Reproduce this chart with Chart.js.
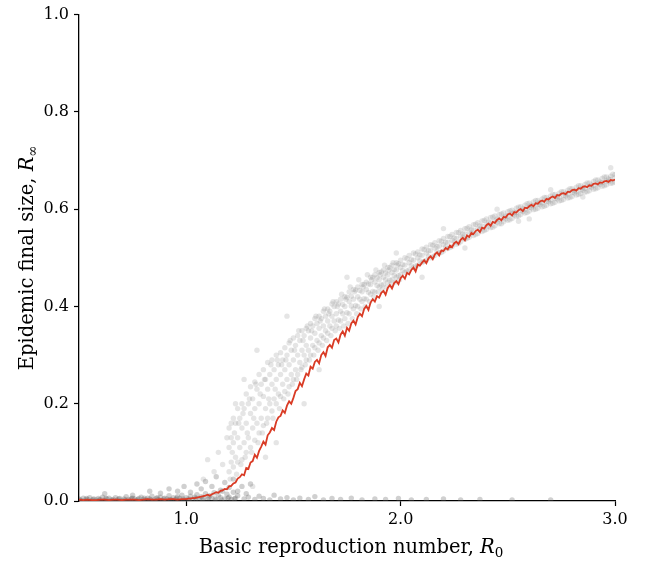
<!DOCTYPE html>
<html>
<head>
<meta charset="utf-8">
<script src="https://cdn.jsdelivr.net/npm/chart.js@4.4.1/dist/chart.umd.min.js"></script>
<style>
html,body{margin:0;padding:0;background:#fff;}
#wrap{width:649px;height:561px;}
</style>
</head>
<body>
<div id="wrap"><canvas id="c" width="649" height="561"></canvas></div>
<script>
// ---- data ----
const xTickValues = [1.0, 2.0, 3.0];
const yTickValues = [0.0, 0.2, 0.4, 0.6, 0.8, 1.0];
const xTitle = ["Basic reproduction number, ", "R", "0"];
const yTitle = ["Epidemic final size, ", "R", "\u221E"];

// mean final size (red line)
const meanR0 = [0.50,0.52,0.54,0.56,0.58,0.60,0.62,0.64,0.66,0.68,0.70,0.72,0.74,0.76,0.78,0.80,0.82,0.84,0.86,0.88,0.90,0.92,0.94,0.96,0.98,
1.00,1.01,1.02,1.03,1.04,1.05,1.06,1.07,1.08,1.09,1.10,1.11,1.12,1.13,1.14,1.15,1.16,1.17,1.18,1.19,
1.20,1.21,1.22,1.23,1.24,1.25,1.26,1.27,1.28,1.29,1.30,1.31,1.32,1.33,1.34,1.35,1.36,1.37,1.38,1.39,
1.40,1.41,1.42,1.43,1.44,1.45,1.46,1.47,1.48,1.49,1.50,1.51,1.52,1.53,1.54,1.55,1.56,1.57,1.58,1.59,
1.60,1.61,1.62,1.63,1.64,1.65,1.66,1.67,1.68,1.69,1.70,1.71,1.72,1.73,1.74,1.75,1.76,1.77,1.78,1.79,
1.80,1.81,1.82,1.83,1.84,1.85,1.86,1.87,1.88,1.89,1.90,1.91,1.92,1.93,1.94,1.95,1.96,1.97,1.98,1.99,
2.00,2.01,2.02,2.03,2.04,2.05,2.06,2.07,2.08,2.09,2.10,2.11,2.12,2.13,2.14,2.15,2.16,2.17,2.18,2.19,
2.20,2.21,2.22,2.23,2.24,2.25,2.26,2.27,2.28,2.29,2.30,2.31,2.32,2.33,2.34,2.35,2.36,2.37,2.38,2.39,
2.40,2.41,2.42,2.43,2.44,2.45,2.46,2.47,2.48,2.49,2.50,2.51,2.52,2.53,2.54,2.55,2.56,2.57,2.58,2.59,
2.60,2.61,2.62,2.63,2.64,2.65,2.66,2.67,2.68,2.69,2.70,2.71,2.72,2.73,2.74,2.75,2.76,2.77,2.78,2.79,
2.80,2.81,2.82,2.83,2.84,2.85,2.86,2.87,2.88,2.89,2.90,2.91,2.92,2.93,2.94,2.95,2.96,2.97,2.98,2.99,3.00];
const meanSize = [0.003,0.002,0.003,0.002,0.002,0.003,0.003,0.002,0.003,0.003,0.002,0.003,0.003,0.003,0.002,0.003,0.004,0.003,0.003,0.004,0.003,0.004,0.004,0.003,0.004,
0.004,0.005,0.005,0.006,0.006,0.007,0.008,0.009,0.010,0.011,0.013,0.011,0.014,0.016,0.018,0.017,0.021,0.022,0.025,0.024,
0.030,0.031,0.036,0.038,0.046,0.049,0.055,0.053,0.068,0.066,0.079,0.082,0.095,0.089,0.103,0.112,0.122,0.116,0.135,0.141,
0.150,0.146,0.163,0.172,0.175,0.186,0.181,0.196,0.205,0.200,0.212,0.226,0.230,0.243,0.236,0.250,0.262,0.258,0.276,0.272,
0.286,0.290,0.283,0.300,0.306,0.298,0.316,0.321,0.315,0.331,0.334,0.326,0.342,0.349,0.340,0.356,0.350,0.365,0.371,0.363,
0.378,0.385,0.380,0.395,0.401,0.393,0.408,0.415,0.410,0.421,0.418,0.428,0.432,0.424,0.438,0.444,0.437,0.448,0.452,0.446,
0.458,0.463,0.457,0.469,0.466,0.475,0.480,0.472,0.486,0.484,0.490,0.495,0.489,0.499,0.503,0.497,0.507,0.511,0.505,0.515,
0.514,0.520,0.517,0.525,0.522,0.530,0.533,0.528,0.537,0.541,0.536,0.546,0.543,0.551,0.549,0.555,0.558,0.553,0.562,0.560,
0.567,0.570,0.566,0.574,0.572,0.578,0.581,0.577,0.584,0.583,0.589,0.591,0.587,0.594,0.593,0.598,0.600,0.596,0.603,0.602,
0.606,0.609,0.606,0.612,0.611,0.616,0.618,0.615,0.621,0.620,0.624,0.626,0.623,0.629,0.628,0.632,0.633,0.631,0.636,0.635,
0.639,0.640,0.638,0.643,0.642,0.646,0.647,0.645,0.649,0.648,0.652,0.653,0.651,0.655,0.654,0.657,0.658,0.656,0.660,0.659,0.661];

// individual runs that died out early (near zero)
const extinctRuns = [
[0.50,0.004],[0.51,0.001],[0.52,0.006],[0.53,0.002],[0.54,0.003],[0.55,0.007],[0.56,0.001],[0.57,0.004],[0.58,0.002],[0.59,0.005],
[0.60,0.003],[0.61,0.008],[0.62,0.001],[0.63,0.004],[0.64,0.006],[0.65,0.002],[0.66,0.003],[0.67,0.007],[0.68,0.002],[0.69,0.005],
[0.70,0.001],[0.71,0.004],[0.72,0.009],[0.73,0.003],[0.74,0.002],[0.75,0.006],[0.76,0.004],[0.77,0.001],[0.78,0.005],[0.79,0.008],
[0.80,0.003],[0.81,0.002],[0.82,0.006],[0.83,0.004],[0.84,0.010],[0.85,0.002],[0.86,0.005],[0.87,0.003],[0.88,0.008],[0.89,0.001],
[0.90,0.006],[0.91,0.004],[0.92,0.011],[0.93,0.002],[0.94,0.007],[0.95,0.003],[0.96,0.009],[0.97,0.005],[0.98,0.012],[0.99,0.002],
[1.00,0.007],[1.01,0.004],[1.02,0.010],[1.03,0.003],[1.04,0.008],[1.05,0.013],[1.06,0.002],[1.07,0.009],[1.08,0.005],[1.09,0.015],
[1.10,0.003],[1.11,0.011],[1.12,0.006],[1.13,0.017],[1.14,0.002],[1.15,0.012],[1.16,0.007],[1.17,0.020],[1.18,0.004],[1.19,0.014],
[1.20,0.008],[1.21,0.003],[1.22,0.018],[1.23,0.006],[1.24,0.011],
[0.505,0.002],[0.535,0.005],[0.565,0.003],[0.595,0.002],[0.625,0.005],[0.655,0.001],[0.685,0.004],[0.715,0.002],[0.745,0.005],[0.775,0.003],
[0.805,0.006],[0.835,0.002],[0.865,0.007],[0.895,0.004],[0.925,0.003],[0.955,0.006],[0.985,0.004],[1.015,0.002],[1.045,0.005],[1.075,0.003],
[1.105,0.007],[1.135,0.004],[1.165,0.002],[1.195,0.006],[1.225,0.004],
[0.62,0.015],[0.75,0.012],[0.83,0.020],[0.88,0.016],[0.92,0.025],[0.96,0.020],[0.99,0.030],[1.02,0.018],[1.05,0.035],[1.07,0.025],
[1.09,0.040],[1.12,0.030],[1.14,0.050],[1.16,0.022],[1.18,0.038],[1.20,0.028],[1.22,0.045],[1.24,0.020],[1.26,0.030],[1.28,0.015],[1.30,0.035],
[1.27,0.004],[1.29,0.008],[1.32,0.003],[1.34,0.010],[1.36,0.005],[1.39,0.002],[1.41,0.012],[1.44,0.004],[1.47,0.007],[1.50,0.002],
[1.53,0.006],[1.57,0.003],[1.60,0.009],[1.64,0.002],[1.68,0.005],[1.72,0.003],[1.77,0.006],[1.82,0.002],[1.88,0.004],[1.93,0.003],
[1.99,0.005],[2.05,0.002],[2.12,0.003],[2.20,0.004],[2.28,0.002],[2.37,0.003],[2.52,0.002],[2.70,0.002]];

// individual runs that became large outbreaks
const outbreakRuns = [
[1.20,0.06],[1.20,0.11],[1.20,0.15],[1.22,0.07],[1.22,0.12],[1.22,0.17],[1.24,0.08],[1.24,0.13],[1.24,0.19],[1.26,0.085],[1.26,0.15],[1.26,0.20],
[1.28,0.10],[1.28,0.16],[1.28,0.22],[1.30,0.11],[1.30,0.18],[1.30,0.235],[1.32,0.125],[1.32,0.19],[1.32,0.245],[1.34,0.14],[1.34,0.20],[1.34,0.26],
[1.36,0.155],[1.36,0.215],[1.36,0.27],[1.38,0.17],[1.38,0.23],[1.38,0.285],[1.40,0.185],[1.40,0.24],[1.40,0.29],[1.42,0.20],[1.42,0.25],[1.42,0.30],
[1.44,0.215],[1.44,0.26],[1.44,0.305],[1.46,0.225],[1.46,0.27],[1.46,0.315],[1.48,0.235],[1.48,0.28],[1.48,0.325],[1.50,0.25],[1.50,0.29],[1.50,0.335],
[1.52,0.26],[1.52,0.30],[1.52,0.34],[1.54,0.275],[1.54,0.31],[1.54,0.35],[1.56,0.29],[1.56,0.32],[1.56,0.355],[1.58,0.30],[1.58,0.335],[1.58,0.365],
[1.60,0.315],[1.60,0.345],[1.60,0.375],[1.62,0.325],[1.62,0.355],[1.62,0.38],[1.64,0.335],[1.64,0.36],[1.64,0.39],[1.66,0.345],[1.66,0.37],[1.66,0.395],
[1.68,0.355],[1.68,0.38],[1.68,0.405],[1.70,0.36],[1.70,0.385],[1.70,0.41],[1.72,0.37],[1.72,0.39],[1.72,0.415],[1.74,0.375],[1.74,0.40],[1.74,0.42],
[1.76,0.385],[1.76,0.41],[1.76,0.43],[1.78,0.395],[1.78,0.415],[1.78,0.435],[1.80,0.40],[1.80,0.42],[1.80,0.44],[1.82,0.41],[1.82,0.43],[1.82,0.445],
[1.84,0.415],[1.84,0.435],[1.84,0.45],[1.86,0.425],[1.86,0.445],[1.86,0.46],[1.88,0.43],[1.88,0.45],[1.88,0.465],[1.90,0.44],[1.90,0.455],[1.90,0.47],
[1.92,0.445],[1.92,0.46],[1.92,0.475],[1.94,0.45],[1.94,0.465],[1.94,0.48],[1.96,0.455],[1.96,0.47],[1.96,0.485],[1.98,0.46],[1.98,0.475],[1.98,0.49],
[2.00,0.465],[2.00,0.48],[2.00,0.495],[2.02,0.47],[2.02,0.485],[2.02,0.50],[2.04,0.475],[2.04,0.49],[2.04,0.505],[2.06,0.48],[2.06,0.495],[2.06,0.51],
[2.08,0.485],[2.08,0.50],[2.08,0.512],[2.10,0.49],[2.10,0.505],[2.10,0.518],[2.12,0.495],[2.12,0.51],[2.12,0.522],[2.14,0.50],[2.14,0.515],[2.14,0.527],
[2.16,0.505],[2.16,0.52],[2.16,0.531],[2.18,0.51],[2.18,0.524],[2.18,0.535],[2.20,0.514],[2.20,0.527],[2.20,0.54],[2.22,0.519],[2.22,0.532],[2.22,0.544],
[2.24,0.523],[2.24,0.536],[2.24,0.548],[2.26,0.528],[2.26,0.54],[2.26,0.552],[2.28,0.533],[2.28,0.545],[2.28,0.556],[2.30,0.538],[2.30,0.549],[2.30,0.56],
[2.32,0.542],[2.32,0.553],[2.32,0.564],[2.34,0.546],[2.34,0.557],[2.34,0.568],[2.36,0.55],[2.36,0.561],[2.36,0.572],[2.38,0.554],[2.38,0.565],[2.38,0.576],
[2.40,0.558],[2.40,0.569],[2.40,0.58],[2.42,0.562],[2.42,0.572],[2.42,0.583],[2.44,0.566],[2.44,0.576],[2.44,0.586],[2.46,0.57],[2.46,0.579],[2.46,0.589],
[2.48,0.574],[2.48,0.583],[2.48,0.592],[2.50,0.577],[2.50,0.586],[2.50,0.595],[2.52,0.581],[2.52,0.59],[2.52,0.598],[2.54,0.585],[2.54,0.593],[2.54,0.602],
[2.56,0.589],[2.56,0.597],[2.56,0.605],[2.58,0.592],[2.58,0.60],[2.58,0.608],[2.60,0.596],[2.60,0.604],[2.60,0.612],[2.62,0.599],[2.62,0.607],[2.62,0.615],
[2.64,0.602],[2.64,0.61],[2.64,0.618],[2.66,0.605],[2.66,0.613],[2.66,0.621],[2.68,0.608],[2.68,0.616],[2.68,0.624],[2.70,0.611],[2.70,0.619],[2.70,0.627],
[2.72,0.614],[2.72,0.622],[2.72,0.63],[2.74,0.617],[2.74,0.625],[2.74,0.633],[2.76,0.62],[2.76,0.628],[2.76,0.636],[2.78,0.623],[2.78,0.631],[2.78,0.639],
[2.80,0.626],[2.80,0.634],[2.80,0.642],[2.82,0.629],[2.82,0.637],[2.82,0.645],[2.84,0.632],[2.84,0.64],[2.84,0.648],[2.86,0.635],[2.86,0.643],[2.86,0.651],
[2.88,0.638],[2.88,0.646],[2.88,0.654],[2.90,0.641],[2.90,0.649],[2.90,0.657],[2.92,0.644],[2.92,0.652],[2.92,0.66],[2.94,0.647],[2.94,0.655],[2.94,0.663],
[2.96,0.65],[2.96,0.658],[2.96,0.666],[2.98,0.653],[2.98,0.661],[2.98,0.668],[3.00,0.656],[3.00,0.664],[3.00,0.671],
[1.21,0.08],[1.21,0.13],[1.23,0.09],[1.23,0.16],[1.25,0.11],[1.25,0.17],[1.27,0.12],[1.27,0.19],[1.29,0.13],[1.29,0.20],
[1.31,0.15],[1.31,0.21],[1.33,0.16],[1.33,0.23],[1.35,0.17],[1.35,0.24],[1.37,0.19],[1.37,0.25],[1.39,0.20],[1.39,0.26],
[1.41,0.21],[1.41,0.27],[1.43,0.22],[1.43,0.28],[1.45,0.24],[1.45,0.29],[1.47,0.25],[1.47,0.30],[1.49,0.26],[1.49,0.31],
[1.51,0.27],[1.51,0.32],[1.53,0.285],[1.53,0.33],[1.55,0.30],[1.55,0.34],[1.57,0.31],[1.57,0.35],[1.59,0.32],[1.59,0.36],
[1.61,0.33],[1.61,0.365],[1.63,0.34],[1.63,0.375],[1.65,0.35],[1.65,0.38],[1.67,0.36],[1.67,0.39],[1.69,0.37],[1.69,0.40],
[1.71,0.372],[1.71,0.405],[1.73,0.385],[1.73,0.404],[1.75,0.387],[1.75,0.419],[1.77,0.401],[1.77,0.421],[1.79,0.402],[1.79,0.434],
[1.81,0.415],[1.81,0.433],[1.83,0.416],[1.83,0.445],[1.85,0.429],[1.85,0.446],[1.87,0.431],[1.87,0.46],[1.89,0.443],[1.89,0.459],
[1.91,0.444],[1.91,0.471],[1.93,0.455],[1.93,0.469],[1.95,0.454],[1.95,0.48],[1.97,0.464],[1.97,0.476],[1.99,0.463],[1.99,0.488],
[2.01,0.474],[2.01,0.486],[2.03,0.473],[2.03,0.498],[2.05,0.484],[2.05,0.496],[2.07,0.483],[2.07,0.508],[2.09,0.494],[2.09,0.506],
[2.11,0.493],[2.11,0.517],[2.13,0.503],[2.13,0.514],[2.15,0.502],[2.15,0.526],[2.17,0.513],[2.17,0.523],[2.19,0.511],[2.19,0.534],
[2.21,0.522],[2.21,0.532],[2.23,0.521],[2.23,0.544],[2.25,0.532],[2.25,0.541],[2.27,0.530],[2.27,0.552],[2.29,0.541],[2.29,0.549],
[2.31,0.540],[2.31,0.561],[2.33,0.550],[2.33,0.558],[2.35,0.548],[2.35,0.569],[2.37,0.558],[2.37,0.566],[2.39,0.556],[2.39,0.577],
[2.41,0.565],[2.41,0.573],[2.43,0.563],[2.43,0.584],[2.45,0.573],[2.45,0.580],[2.47,0.570],[2.47,0.590],[2.49,0.580],[2.49,0.586],
[2.51,0.578],[2.51,0.597],[2.53,0.588],[2.53,0.593],[2.55,0.586],[2.55,0.604],[2.57,0.595],[2.57,0.601],[2.59,0.593],[2.59,0.611],
[2.61,0.603],[2.61,0.608],[2.63,0.600],[2.63,0.618],[2.65,0.609],[2.65,0.614],[2.67,0.606],[2.67,0.624],[2.69,0.615],[2.69,0.620],
[2.71,0.612],[2.71,0.630],[2.73,0.621],[2.73,0.626],[2.75,0.618],[2.75,0.636],[2.77,0.627],[2.77,0.632],[2.79,0.624],[2.79,0.642],
[2.81,0.633],[2.81,0.638],[2.83,0.630],[2.83,0.648],[2.85,0.639],[2.85,0.644],[2.87,0.636],[2.87,0.654],[2.89,0.645],[2.89,0.650],
[2.91,0.642],[2.91,0.660],[2.93,0.651],[2.93,0.656],[2.95,0.648],[2.95,0.666],[2.97,0.657],[2.97,0.662],[2.99,0.654],[2.99,0.672],
[1.205,0.045],[1.215,0.10],[1.225,0.14],[1.235,0.055],[1.245,0.16],[1.255,0.075],[1.265,0.18],[1.275,0.09],[1.285,0.14],[1.295,0.21],
[1.305,0.10],[1.315,0.17],[1.325,0.24],[1.335,0.12],[1.345,0.22],[1.355,0.14],[1.365,0.25],[1.375,0.16],[1.385,0.21],[1.395,0.28],
[1.405,0.17],[1.415,0.23],[1.425,0.29],[1.435,0.19],[1.445,0.28],[1.455,0.21],[1.465,0.29],[1.475,0.22],[1.485,0.33],[1.495,0.24],
[1.505,0.31],[1.515,0.25],[1.525,0.35],[1.535,0.27],[1.545,0.33],[1.555,0.28],[1.565,0.36],[1.575,0.29],[1.585,0.35],[1.595,0.30],
[1.605,0.38],[1.615,0.31],[1.625,0.37],[1.635,0.32],[1.645,0.395],[1.655,0.33],[1.665,0.385],[1.675,0.34],[1.685,0.41],[1.695,0.35],
[1.705,0.40],[1.715,0.355],[1.725,0.425],[1.735,0.36],[1.745,0.415],[1.755,0.365],[1.765,0.44],[1.775,0.375],[1.785,0.43],[1.795,0.385],
[1.805,0.455],[1.815,0.395],[1.825,0.44],[1.835,0.40],[1.845,0.465],[1.855,0.41],[1.865,0.455],[1.875,0.42],[1.885,0.475],[1.895,0.43],
[1.905,0.465],[1.915,0.435],[1.925,0.485],[1.935,0.44],[1.945,0.475],[1.955,0.445],[1.965,0.49],[1.975,0.45],[1.985,0.485],[1.995,0.455],
[1.08,0.045],[1.10,0.085],[1.13,0.06],[1.15,0.10],[1.17,0.075],[1.19,0.13],[1.21,0.16],[1.23,0.20],[1.27,0.25],[1.31,0.03],
[1.42,0.12],[1.47,0.38],[1.55,0.20],[1.62,0.27],[1.75,0.46],[1.90,0.40],[2.10,0.46],[2.30,0.52],[2.60,0.58],[2.45,0.60],
[2.85,0.625],[2.98,0.685],[1.33,0.31],[1.37,0.09],[2.70,0.64],[2.20,0.56],[1.98,0.51],[2.55,0.575]];

// ---- chart ----
const FONT = "'DejaVu Serif', serif";
Chart.defaults.font.family = FONT;
Chart.defaults.font.size = 16;
Chart.defaults.color = '#000';

function drawParts(ctx, parts, cx, baseline) {
  let total = 0;
  parts.forEach(p => { ctx.font = p.font; total += ctx.measureText(p.text).width; });
  let x = cx - total / 2;
  parts.forEach(p => {
    ctx.font = p.font;
    ctx.fillText(p.text, x, baseline + (p.dy || 0));
    x += ctx.measureText(p.text).width;
  });
}

const titlePlugin = {
  id: 'mixedTitles',
  afterDraw(chart) {
    const { ctx, chartArea } = chart;
    ctx.save();
    ctx.fillStyle = '#000';
    ctx.textBaseline = 'alphabetic';
    ctx.textAlign = 'left';
    const xParts = [
      { text: xTitle[0], font: "19.5px " + FONT },
      { text: xTitle[1], font: "italic 19.5px " + FONT },
      { text: xTitle[2], font: "13.5px " + FONT, dy: 4 }
    ];
    drawParts(ctx, xParts, (chartArea.left + chartArea.right) / 2 + 4, 553);
    const yParts = [
      { text: yTitle[0], font: "19.5px " + FONT },
      { text: yTitle[1], font: "italic 19.5px " + FONT },
      { text: yTitle[2], font: "13.5px " + FONT, dy: 4 }
    ];
    ctx.translate(33, (chartArea.top + chartArea.bottom) / 2);
    ctx.rotate(-Math.PI / 2);
    drawParts(ctx, yParts, 0, 0);
    ctx.restore();
  }
};

new Chart(document.getElementById('c'), {
  type: 'scatter',
  data: {
    datasets: [
      {
        label: 'Mean final size',
        type: 'line',
        data: meanR0.map((x, i) => ({ x: x, y: meanSize[i] })),
        borderColor: '#d93b25',
        borderWidth: 1.8,
        pointRadius: 0,
        tension: 0,
        fill: false,
        order: 0
      },
      {
        label: 'Outbreak runs',
        data: outbreakRuns.map(p => ({ x: p[0], y: p[1] })),
        backgroundColor: 'rgba(125,125,125,0.2)',
        borderWidth: 0,
        pointRadius: 2.7,
        order: 1
      },
      {
        label: 'Extinct runs',
        data: extinctRuns.map(p => ({ x: p[0], y: p[1] })),
        backgroundColor: 'rgba(100,100,100,0.3)',
        borderWidth: 0,
        pointRadius: 2.7,
        order: 2
      }
    ]
  },
  options: {
    responsive: false,
    animation: false,
    events: [],
    layout: { padding: { left: 0, right: 34, top: 14, bottom: 0 } },
    plugins: { legend: { display: false }, tooltip: { enabled: false }, title: { display: false } },
    scales: {
      x: {
        type: 'linear',
        min: 0.5,
        max: 3.0,
        afterBuildTicks: s => { s.ticks = xTickValues.map(v => ({ value: v })); },
        afterFit: s => { s.height = 60; },
        ticks: { callback: v => Number(v).toFixed(1), padding: 4, maxRotation: 0, font: { size: 16 } },
        grid: { drawOnChartArea: false, drawTicks: true, tickLength: 5, tickColor: '#000', tickWidth: 1.2 },
        border: { display: true, color: '#000', width: 1.3 }
      },
      y: {
        type: 'linear',
        min: 0,
        max: 1,
        afterBuildTicks: s => { s.ticks = yTickValues.map(v => ({ value: v })); },
        afterFit: s => { s.width = 79; },
        ticks: { callback: v => Number(v).toFixed(1), padding: 5, font: { size: 16 } },
        grid: { drawOnChartArea: false, drawTicks: true, tickLength: 5, tickColor: '#000', tickWidth: 1.2 },
        border: { display: true, color: '#000', width: 1.3 }
      }
    }
  },
  plugins: [titlePlugin]
});
</script>
</body>
</html>
